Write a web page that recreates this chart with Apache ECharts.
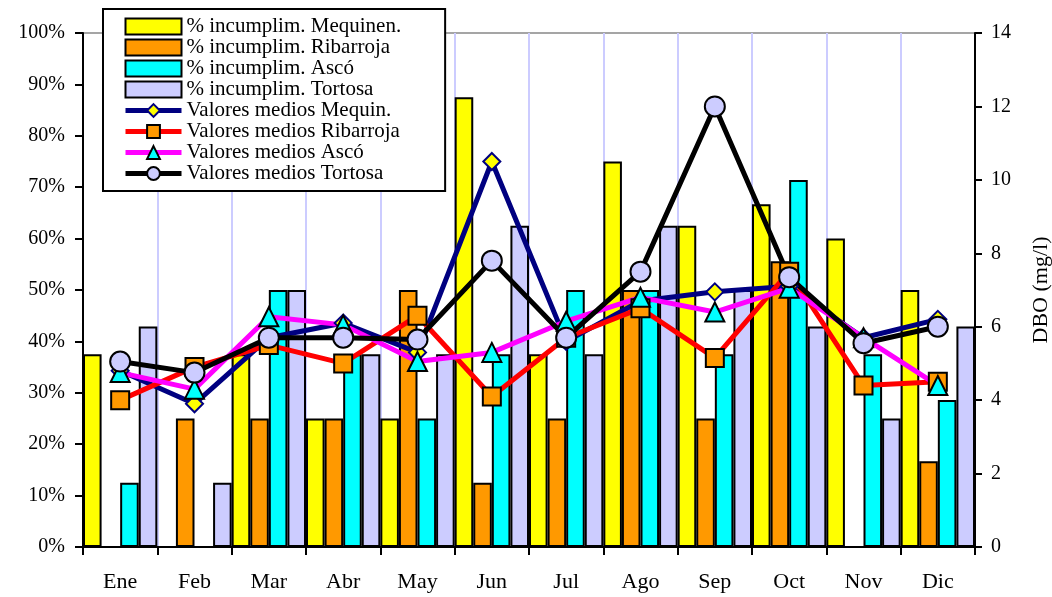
<!DOCTYPE html>
<html>
<head>
<meta charset="utf-8">
<title>DBO</title>
<script src="https://cdn.jsdelivr.net/npm/echarts@6.0.0/dist/echarts.min.js"></script>
<style>
  html, body { margin: 0; padding: 0; background: #fff; }
  #chart { width: 1052px; height: 597px; }
</style>
</head>
<body>
<div id="chart"></div>
<script>
var meses = ['Ene', 'Feb', 'Mar', 'Abr', 'May', 'Jun', 'Jul', 'Ago', 'Sep', 'Oct', 'Nov', 'Dic'];

// % incumplimiento (eje izquierdo)
var pctMequinenza = [37.5, 0, 37.5, 25, 25, 87.5, 37.5, 75, 62.5, 66.7, 60, 50];
var pctRibarroja = [0, 25, 25, 25, 50, 12.5, 25, 50, 25, 55.6, 0, 16.7];
var pctAsco = [12.5, 0, 50, 37.5, 25, 37.5, 50, 50, 37.5, 71.4, 37.5, 28.6];
var pctTortosa = [42.9, 12.5, 50, 37.5, 37.5, 62.5, 37.5, 62.5, 50, 42.9, 25, 42.9];

// valores medios DBO mg/l (eje derecho)
var dboMequin = [4.8, 3.9, 5.7, 6.1, 5.3, 10.5, 5.6, 6.7, 6.95, 7.1, 5.7, 6.2];
var dboRibarroja = [4.0, 4.9, 5.5, 5.0, 6.3, 4.1, 5.7, 6.5, 5.15, 7.5, 4.4, 4.5];
var dboAsco = [4.75, 4.3, 6.27, 6.05, 5.05, 5.3, 6.15, 6.8, 6.4, 7.05, 5.7, 4.4];
var dboTortosa = [5.05, 4.75, 5.7, 5.7, 5.65, 7.8, 5.7, 7.5, 12.0, 7.35, 5.55, 6.0];

var serif = '"Liberation Serif", "Times New Roman", serif';

var barra = function(nombre, datos, color){
    return {
        name: nombre,
        type: 'bar',
        yAxisIndex: 0,
        data: datos,
        barGap: '0%',
        barCategoryGap: '0%',
        itemStyle: { color: color, borderColor: '#000', borderWidth: 2 }
    };
};

var linea = function(nombre, datos, color, simbolo, tam, relleno, borde){
    return {
        name: nombre,
        type: 'line',
        yAxisIndex: 1,
        data: datos,
        symbol: simbolo,
        symbolSize: tam,
        lineStyle: { color: color, width: 5 },
        itemStyle: { color: relleno, borderColor: borde, borderWidth: 2 },
        z: 5
    };
};

var myChart = echarts.init(document.getElementById('chart'));

myChart.setOption({
    animation: false,
    grid: {
        left: 83, right: 77, top: 33, bottom: 50,
        outerBoundsMode: 'none',
        show: true, borderColor: '#888', borderWidth: 1.5
    },
    legend: {
        orient: 'vertical',
        left: 103, top: 9,
        padding: [7, 44, 7, 20],
        itemWidth: 56, itemHeight: 16, itemGap: 0,
        backgroundColor: '#fff',
        borderColor: '#000', borderWidth: 2,
        lineStyle: { width: 'inherit' },
        textStyle: { fontFamily: serif, fontSize: 21, lineHeight: 21, color: '#000' },
        data: [
            { name: '% incumplim. Mequinen.', icon: 'rect' },
            { name: '% incumplim. Ribarroja', icon: 'rect' },
            { name: '% incumplim. Ascó', icon: 'rect' },
            { name: '% incumplim. Tortosa', icon: 'rect' },
            'Valores medios Mequin.',
            'Valores medios Ribarroja',
            'Valores medios Ascó',
            'Valores medios Tortosa'
        ]
    },
    xAxis: {
        type: 'category',
        data: meses,
        boundaryGap: true,
        axisLine: { lineStyle: { color: '#000', width: 2 } },
        axisTick: { show: true, length: 8, lineStyle: { color: '#000', width: 2 } },
        axisLabel: { color: '#000', fontFamily: serif, fontSize: 22, margin: 24 },
        splitLine: { show: true, lineStyle: { color: '#ccccff', width: 2 } }
    },
    yAxis: [{
        type: 'value',
        position: 'left',
        min: 0, max: 100, interval: 10,
        axisLine: { show: true, lineStyle: { color: '#000', width: 2 } },
        axisTick: { show: true, length: 8, lineStyle: { color: '#000', width: 2 } },
        axisLabel: { color: '#000', fontFamily: serif, fontSize: 20, margin: 18, formatter: '{value}%' },
        splitLine: { show: false }
    }, {
        type: 'value',
        position: 'right',
        min: 0, max: 14, interval: 2,
        name: 'DBO (mg/l)',
        nameLocation: 'middle',
        nameRotate: 90,
        nameGap: 55,
        nameTextStyle: { color: '#000', fontFamily: serif, fontSize: 22 },
        axisLine: { show: true, lineStyle: { color: '#000', width: 2 } },
        axisTick: { show: true, length: 7, lineStyle: { color: '#000', width: 2 } },
        axisLabel: { color: '#000', fontFamily: serif, fontSize: 20, margin: 16 },
        splitLine: { show: false }
    }],
    series: [
        barra('% incumplim. Mequinen.', pctMequinenza, '#ffff00'),
        barra('% incumplim. Ribarroja', pctRibarroja, '#ff9900'),
        barra('% incumplim. Ascó', pctAsco, '#00ffff'),
        barra('% incumplim. Tortosa', pctTortosa, '#ccccff'),
        linea('Valores medios Mequin.', dboMequin, '#000080', 'diamond', 17, '#ffff00', '#000080'),
        linea('Valores medios Ribarroja', dboRibarroja, '#ff0000', 'rect', 18, '#ff9900', '#000'),
        linea('Valores medios Ascó', dboAsco, '#ff00ff', 'triangle', 19, '#00ffff', '#000'),
        linea('Valores medios Tortosa', dboTortosa, '#000000', 'circle', 20, '#ccccff', '#000')
    ]
});
</script>
</body>
</html>
